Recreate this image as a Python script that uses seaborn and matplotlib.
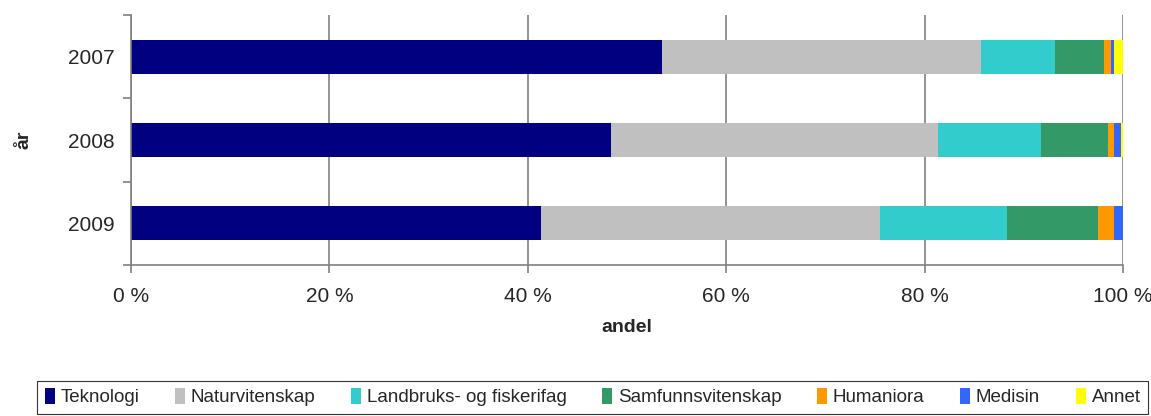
import numpy as np
import pandas as pd
import seaborn as sns
import matplotlib.pyplot as plt
from matplotlib.patches import Patch

# ---- Data ----
years = ['2007', '2008', '2009']
fields = ['Teknologi', 'Naturvitenskap', 'Landbruks- og fiskerifag',
          'Samfunnsvitenskap', 'Humaniora', 'Medisin', 'Annet']
teknologi = [53.5, 48.4, 41.3]
naturvitenskap = [32.2, 33.0, 34.2]
landbruk = [7.4, 10.3, 12.8]
samfunn = [5.0, 6.8, 9.2]
humaniora = [0.7, 0.6, 1.6]
medisin = [0.3, 0.7, 0.9]
annet = [0.9, 0.2, 0.0]
colors = ['#000080', '#c0c0c0', '#33cccc', '#339966', '#ff9900', '#3366ff', '#ffff00']

# ---- Build cumulative table ----
df = pd.DataFrame({'year': years, 'Teknologi': teknologi, 'Naturvitenskap': naturvitenskap,
                   'Landbruks- og fiskerifag': landbruk, 'Samfunnsvitenskap': samfunn,
                   'Humaniora': humaniora, 'Medisin': medisin, 'Annet': annet})
cum = df[fields].cumsum(axis=1)
cum['year'] = df['year']

sns.set_theme(style='white')
plt.rcParams['font.family'] = ['Liberation Sans', 'DejaVu Sans']

fig = plt.figure(figsize=(11.51, 4.16), dpi=100)
ax = fig.add_axes([131 / 1151, 1 - 265 / 416, 992 / 1151, 250 / 416])

# draw from the full stack down so each segment sits on top of the next
for field, col in reversed(list(zip(fields, colors))):
    sns.barplot(data=cum, x=field, y='year', orient='h', color=col, width=0.41,
                saturation=1, ax=ax, linewidth=0)

ax.set_xlim(0, 100)
ax.set_ylim(2.5, -0.5)
ax.set_xticks([0, 20, 40, 60, 80, 100])
ax.set_xticklabels(['0 %', '20 %', '40 %', '60 %', '80 %', '100 %'], fontsize=15)
ax.set_yticks([0, 1, 2])
ax.set_yticklabels(years, fontsize=15)
ax.set_yticks([-0.5, 0.5, 1.5, 2.5], minor=True)
ax.tick_params(axis='y', which='major', length=0, pad=12)
ax.tick_params(axis='y', which='minor', length=6, color='#808080', width=1.2, direction='out', left=True)
ax.tick_params(axis='x', length=6, color='#808080', width=1.2, direction='out', bottom=True, pad=10)
ax.grid(axis='x', color='#808080', linewidth=1.2)
ax.set_axisbelow(True)
for s in ['top', 'right']:
    ax.spines[s].set_visible(False)
for s in ['left', 'bottom']:
    ax.spines[s].set_color('#808080')
    ax.spines[s].set_linewidth(1.2)

ax.set_xlabel('andel', fontsize=14, fontweight='bold', labelpad=9)
ax.set_ylabel('år', fontsize=14, fontweight='bold')
ax.yaxis.set_label_coords(-0.099, 0.5)

handles = [Patch(facecolor=c, edgecolor='none') for c in colors]
leg = fig.legend(handles, fields, loc='lower left', ncol=7,
                 bbox_to_anchor=(37 / 1151, 2 / 416, 1111 / 1151, 36 / 416), mode='expand',
                 frameon=True, fancybox=False, fontsize=13.5, handlelength=0.55, handleheight=0.9,
                 handletextpad=0.3, borderaxespad=0, columnspacing=1.0)
leg.get_frame().set_edgecolor('black')
leg.get_frame().set_linewidth(0.8)

fig.savefig('out.png', dpi=100)
